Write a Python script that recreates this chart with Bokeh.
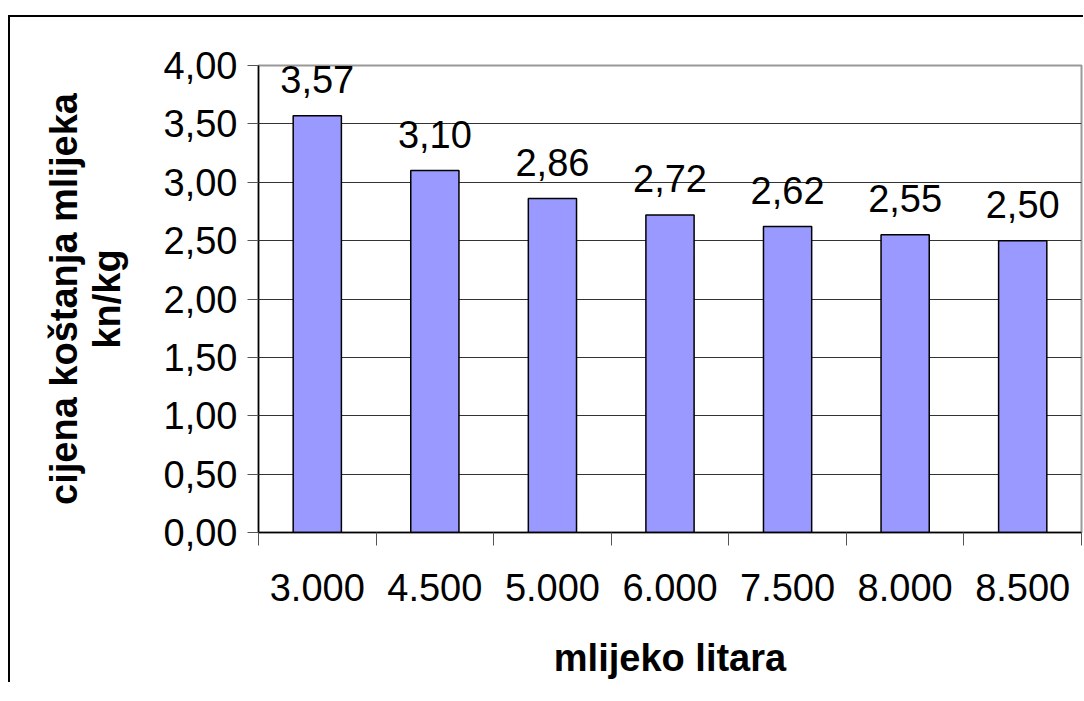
from bokeh.plotting import figure
from bokeh.models import FixedTicker, LinearAxis, LabelSet, ColumnDataSource
from bokeh.embed import file_html
from bokeh.resources import INLINE
from bokeh.core.properties import value

categories = ["3.000", "4.500", "5.000", "6.000", "7.500", "8.000", "8.500"]
costs = [3.57, 3.10, 2.86, 2.72, 2.62, 2.55, 2.50]
y_ticks = [0.0, 0.5, 1.0, 1.5, 2.0, 2.5, 3.0, 3.5, 4.0]
y_tick_labels = ["0,00", "0,50", "1,00", "1,50", "2,00", "2,50", "3,00", "3,50", "4,00"]
x_title = "mlijeko litara"
y_title_lines = ["cijena koštanja mlijeka", "kn/kg"]

FONT = "Liberation Sans"
FS = "38px"

centers = [i + 0.5 for i in range(len(categories))]
bounds = [i for i in range(len(categories) + 1)]
bar_labels = [f"{v:.2f}".replace(".", ",") for v in costs]

p = figure(frame_width=823, frame_height=467, x_range=(0, len(categories)), y_range=(0, 4),
           output_backend="svg", toolbar_location=None,
           min_border_left=248, min_border_right=2, min_border_top=48, min_border_bottom=150)
p.styles = {"margin-top": "15px", "margin-left": "8px",
            "border-top": "2px solid black", "border-left": "2px solid black"}
p.background_fill_color = "white"
p.border_fill_color = "white"
p.outline_line_color = "#999999"
p.outline_line_width = 2

p.vbar(x=centers, top=costs, width=0.41, fill_color="#9999FF", line_color="black", line_width=1.5)

src = ColumnDataSource(dict(x=centers, y=costs, text=bar_labels))
labels = LabelSet(x="x", y="y", text="text", source=src, text_align="center",
                  text_baseline="alphabetic", y_offset=23, text_font=value(FONT),
                  text_font_size=value(FS), text_color="black")
p.add_layout(labels)

# x axis
xa = p.xaxis[0]
xa.ticker = FixedTicker(ticks=centers, minor_ticks=bounds)
xa.major_label_overrides = {c: lab for c, lab in zip(centers, categories)}
xa.major_tick_out = 0
xa.major_tick_in = 0
xa.minor_tick_out = 13
xa.minor_tick_in = 0
xa.minor_tick_line_color = "#555555"
xa.axis_line_color = "black"
xa.axis_line_width = 1.5
xa.major_label_text_font = FONT
xa.major_label_text_font_size = FS
xa.major_label_text_color = "black"
xa.major_label_standoff = 28
xa.axis_label = x_title
xa.axis_label_text_font = FONT
xa.axis_label_text_font_size = FS
xa.axis_label_text_font_style = "bold"
xa.axis_label_text_color = "black"
xa.axis_label_standoff = 33

# y axis (inner: ticks, tick labels, second title line)
ya = p.yaxis[0]
ya.ticker = FixedTicker(ticks=y_ticks)
ya.major_label_overrides = {t: lab for t, lab in zip(y_ticks, y_tick_labels)}
ya.major_tick_out = 11
ya.major_tick_in = 0
ya.major_tick_line_color = "#555555"
ya.minor_tick_line_color = None
ya.axis_line_color = "black"
ya.axis_line_width = 1.5
ya.major_label_text_font = FONT
ya.major_label_text_font_size = FS
ya.major_label_text_color = "black"
ya.major_label_standoff = 10
ya.axis_label = y_title_lines[1]
ya.axis_label_text_font = FONT
ya.axis_label_text_font_size = FS
ya.axis_label_text_font_style = "bold"
ya.axis_label_text_color = "black"
ya.axis_label_standoff = 33

# outer y title line
ya2 = LinearAxis(ticker=FixedTicker(ticks=[]), axis_label=y_title_lines[0])
ya2.axis_line_color = None
ya2.major_tick_line_color = None
ya2.minor_tick_line_color = None
ya2.major_tick_out = 0
ya2.major_tick_in = 0
ya2.major_label_standoff = 0
ya2.axis_label_standoff = -2
ya2.axis_label_text_font = FONT
ya2.axis_label_text_font_size = FS
ya2.axis_label_text_font_style = "bold"
ya2.axis_label_text_color = "black"
p.add_layout(ya2, "left")

p.xgrid.grid_line_color = None
p.ygrid.grid_line_color = "#333333"
p.ygrid.grid_line_width = 1

open("out.html", "w").write(file_html(p, INLINE))
